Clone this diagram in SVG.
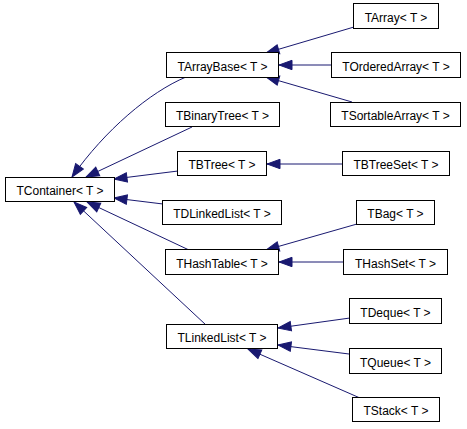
<svg xmlns="http://www.w3.org/2000/svg" width="467" height="429" viewBox="0 0 467 429">
<style>
.node rect{fill:#ffffff;stroke:#000000;stroke-width:1}
.node text{font-family:"Liberation Sans",Arial,Helvetica,sans-serif;font-size:12px;fill:#000000;text-anchor:middle}
.edges path{fill:none;stroke:#191970;stroke-width:1;marker-end:url(#arr)}
</style>
<defs>
<marker id="arr" markerUnits="userSpaceOnUse" viewBox="0 0 13 9.4" refX="13" refY="4.7" markerWidth="13" markerHeight="9.4" orient="auto" overflow="visible">
<path d="M0,0 L13,4.7 L0,9.4 Z" fill="#191970" stroke="#191970" stroke-width="1"/>
</marker>
</defs>
<rect width="467" height="429" fill="#ffffff"/>
<g class="edges">
<path d="M186,77 C150,92 105,130 72,177"/>
<path d="M192,127 L86,177"/>
<path d="M178,171 L114,179"/>
<path d="M163,204 L114,198"/>
<path d="M189,250 L87,202"/>
<path d="M206,325 L74,202"/>
<path d="M354,27 L266,53"/>
<path d="M331,65 L279,65"/>
<path d="M352,102 L266,77"/>
<path d="M342,164 L267,164"/>
<path d="M357,224 L266,250"/>
<path d="M344,262 L279,262"/>
<path d="M350,318 L278,328"/>
<path d="M349,354 L278,345"/>
<path d="M360,398 L248,349"/>
</g>
<g id="TContainer" class="node"><rect x="5.5" y="177.5" width="109" height="24"/><text x="60" y="195">TContainer&lt; T &gt;</text></g>
<g id="TArrayBase" class="node"><rect x="166.5" y="52.5" width="112" height="25"/><text x="222.5" y="71">TArrayBase&lt; T &gt;</text></g>
<g id="TBinaryTree" class="node"><rect x="165.5" y="102.5" width="114" height="24"/><text x="222.5" y="120">TBinaryTree&lt; T &gt;</text></g>
<g id="TBTree" class="node"><rect x="177.5" y="151.5" width="89" height="24"/><text x="222" y="169">TBTree&lt; T &gt;</text></g>
<g id="TDLinkedList" class="node"><rect x="162.5" y="200.5" width="119" height="24"/><text x="222" y="218">TDLinkedList&lt; T &gt;</text></g>
<g id="THashTable" class="node"><rect x="165.5" y="249.5" width="113" height="25"/><text x="222" y="268">THashTable&lt; T &gt;</text></g>
<g id="TLinkedList" class="node"><rect x="166.5" y="324.5" width="111" height="24"/><text x="222" y="342">TLinkedList&lt; T &gt;</text></g>
<g id="TArray" class="node"><rect x="353.5" y="3.5" width="85" height="25"/><text x="396" y="22">TArray&lt; T &gt;</text></g>
<g id="TOrderedArray" class="node"><rect x="331.5" y="52.5" width="129" height="25"/><text x="396" y="71">TOrderedArray&lt; T &gt;</text></g>
<g id="TSortableArray" class="node"><rect x="330.5" y="102.5" width="130" height="24"/><text x="395.5" y="120">TSortableArray&lt; T &gt;</text></g>
<g id="TBTreeSet" class="node"><rect x="342.5" y="151.5" width="107" height="24"/><text x="396" y="169">TBTreeSet&lt; T &gt;</text></g>
<g id="TBag" class="node"><rect x="356.5" y="200.5" width="78" height="24"/><text x="395.5" y="218">TBag&lt; T &gt;</text></g>
<g id="THashSet" class="node"><rect x="343.5" y="249.5" width="104" height="25"/><text x="395.5" y="268">THashSet&lt; T &gt;</text></g>
<g id="TDeque" class="node"><rect x="349.5" y="298.5" width="92" height="25"/><text x="395.5" y="317">TDeque&lt; T &gt;</text></g>
<g id="TQueue" class="node"><rect x="349.5" y="348.5" width="92" height="25"/><text x="395.5" y="367">TQueue&lt; T &gt;</text></g>
<g id="TStack" class="node"><rect x="352.5" y="397.5" width="87" height="24"/><text x="396" y="415">TStack&lt; T &gt;</text></g>
</svg>
